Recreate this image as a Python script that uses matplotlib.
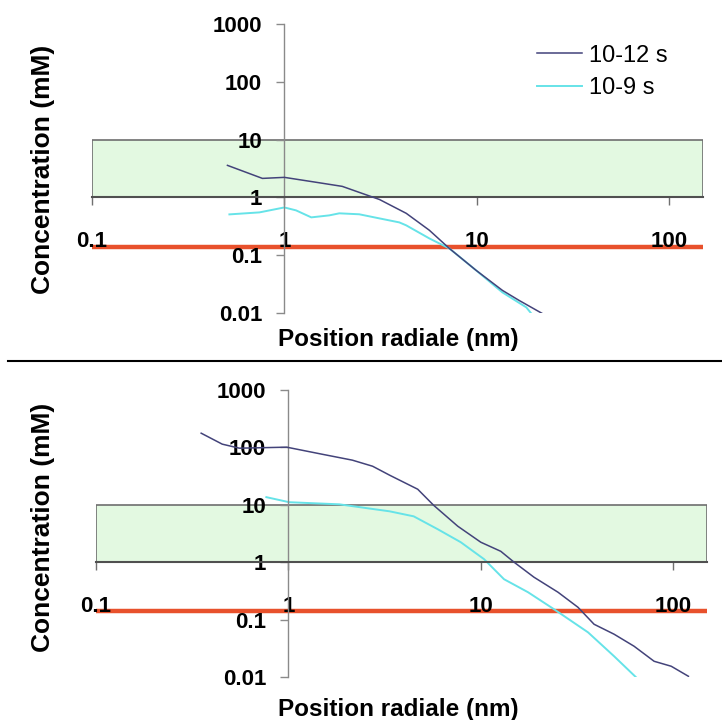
import matplotlib.pyplot as plt
import numpy as np
from matplotlib.lines import Line2D
from matplotlib.patches import Rectangle
from matplotlib.ticker import NullLocator

plt.rcParams['font.family'] = ['Liberation Sans', 'DejaVu Sans']

# axis ticks
x_ticks = [0.1, 1, 10, 100]
x_tick_labels = ['0.1', '1', '10', '100']
y_ticks = [0.01, 0.1, 1, 10, 100, 1000]
y_tick_labels = ['0.01', '0.1', '1', '10', '100', '1000']

# reference band and threshold
band_x = (0.1, 150)
band_y = (1, 10)
threshold = 0.14

series_names = ['10-12 s', '10-9 s']

# top panel
top_dark_x = [0.506, 0.769, 1.0, 1.47, 2.0, 2.54, 3.12, 4.3, 5.67, 7.2, 9.9, 13.6, 16.6, 21.9]
top_dark_y = [3.58, 2.13, 2.22, 1.82, 1.55, 1.17, 0.92, 0.53, 0.27, 0.131, 0.055, 0.0246, 0.0165, 0.0098]
top_cyan_x = [0.518, 0.742, 1.0, 1.15, 1.38, 1.71, 1.93, 2.45, 3.12, 3.96, 4.3, 5.67, 7.2, 9.9, 13.6, 18.1, 19.2]
top_cyan_y = [0.508, 0.55, 0.67, 0.596, 0.451, 0.488, 0.53, 0.51, 0.433, 0.369, 0.328, 0.195, 0.131, 0.055, 0.0227, 0.0125, 0.0098]

# bottom panel
bot_dark_x = [0.352, 0.453, 0.556, 0.98, 1.5, 2.15, 2.74, 3.36, 4.7, 5.69, 7.59, 10, 12.7, 14.9,
              18.9, 25.2, 32.0, 38.8, 49.3, 62.6, 79.6, 97.7, 120]
bot_dark_y = [177, 114, 97, 101, 76, 60, 47, 32.8, 18.7, 9.8, 4.24, 2.23, 1.55, 1.0,
              0.548, 0.30, 0.164, 0.083, 0.0557, 0.0344, 0.0188, 0.0154, 0.0103]
bot_cyan_x = [0.768, 1.01, 1.84, 3.36, 4.48, 5.97, 7.87, 10.4, 13.2, 17.6, 24.0, 36.1, 49.3, 64.1]
bot_cyan_y = [13.6, 11.1, 10.2, 7.7, 6.3, 3.76, 2.23, 1.13, 0.506, 0.30, 0.152, 0.060, 0.023, 0.0099]

dark_color = '#43437a'
cyan_color = '#66e3e8'
red_color = '#e8512c'


def setup_axes(ax):
    ax.set_xscale('log')
    ax.set_yscale('log')
    ax.set_xlim(0.1, 150)
    ax.set_ylim(0.01, 1000)
    ax.patch.set_visible(False)
    ax.spines['top'].set_visible(False)
    ax.spines['right'].set_visible(False)
    ax.spines['left'].set_position(('data', 1))
    ax.spines['bottom'].set_position(('data', 1))
    ax.spines['left'].set_color('#8a8a8a')
    ax.spines['left'].set_linewidth(1.0)
    ax.spines['bottom'].set_color('#505050')
    ax.spines['bottom'].set_linewidth(1.5)
    ax.set_xticks(x_ticks)
    ax.set_xticklabels(x_tick_labels, fontweight='bold')
    ax.set_yticks(y_ticks)
    ax.set_yticklabels(y_tick_labels, fontweight='bold')
    ax.xaxis.set_minor_locator(NullLocator())
    ax.yaxis.set_minor_locator(NullLocator())
    ax.tick_params(axis='y', direction='out', length=6, width=1, color='#8a8a8a', pad=10, labelsize=16)
    ax.tick_params(axis='x', direction='out', length=6, width=1, color='#707070', pad=18, labelsize=16)

    band = Rectangle((band_x[0], band_y[0]), band_x[1] - band_x[0], band_y[1] - band_y[0],
                     facecolor='#e3f9e1', edgecolor='#6e6e6e', linewidth=1.2, zorder=0)
    ax.add_patch(band)
    ax.plot(band_x, [threshold, threshold], color=red_color, linewidth=3.2, zorder=1,
            solid_capstyle='butt')


fig = plt.figure(figsize=(7.22, 7.2), dpi=100)
ax1 = fig.add_axes([0.1274, 0.5653, 0.8463, 0.4014])
ax2 = fig.add_axes([0.1330, 0.0597, 0.8463, 0.3986])

for ax in (ax1, ax2):
    setup_axes(ax)

l1, = ax1.plot(top_dark_x, top_dark_y, color=dark_color, linewidth=1.1, zorder=3)
l2, = ax1.plot(top_cyan_x, top_cyan_y, color=cyan_color, linewidth=1.4, zorder=2)
ax2.plot(bot_dark_x, bot_dark_y, color=dark_color, linewidth=1.1, zorder=3)
ax2.plot(bot_cyan_x, bot_cyan_y, color=cyan_color, linewidth=1.4, zorder=2)

ax1.legend([l1, l2], series_names, loc='upper left', bbox_to_anchor=(0.744, 0.938),
           bbox_transform=fig.transFigure, frameon=False, fontsize=17, handlelength=1.9,
           handletextpad=0.3, labelspacing=0.45, borderpad=0, borderaxespad=0)

for yc in (0.765, 0.267):
    fig.text(0.059, yc, 'Concentration (mM)', rotation=90, ha='center', va='center',
             fontsize=19, fontweight='bold')
for yc in (0.529, 0.014):
    fig.text(0.551, yc, 'Position radiale (nm)', ha='center', va='center',
             fontsize=17.5, fontweight='bold')

fig.add_artist(Line2D([0.011, 1.0], [0.4986, 0.4986], color='black', linewidth=1.5,
                      transform=fig.transFigure))

fig.savefig('out.png', dpi=100)
